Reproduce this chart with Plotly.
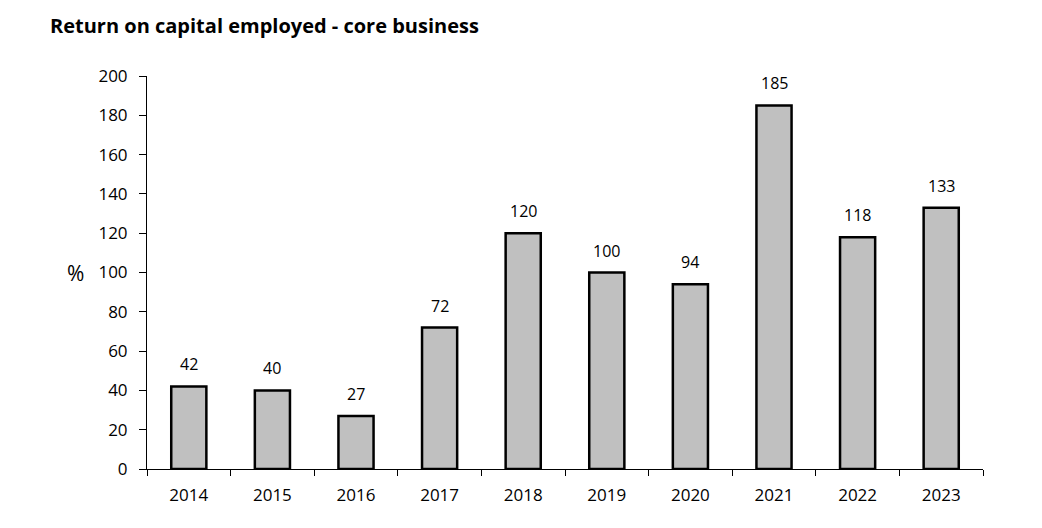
import plotly.graph_objects as go

years = ["2014", "2015", "2016", "2017", "2018", "2019", "2020", "2021", "2022", "2023"]
roce = [42, 40, 27, 72, 120, 100, 94, 185, 118, 133]
y_ticks = [0, 20, 40, 60, 80, 100, 120, 140, 160, 180, 200]

FONT = "Open Sans, Noto Sans, sans-serif"

fig = go.Figure()
fig.add_trace(go.Bar(
    x=years, y=roce,
    width=0.42,
    marker=dict(color="#c0c0c0", line=dict(color="black", width=2.5)),
    hoverinfo="x+y",
))

for i, v in enumerate(roce):
    fig.add_annotation(x=i, y=v, text=str(v), showarrow=False,
                       yanchor="bottom", yshift=9,
                       font=dict(family=FONT, size=16, color="black"))

fig.add_annotation(xref="paper", yref="paper", x=-0.086, xanchor="center",
                   y=0.50, yanchor="middle", text="%",
                   showarrow=False, font=dict(family=FONT, size=21, color="black"))

fig.update_layout(
    width=1042, height=528,
    margin=dict(l=139, r=67, t=68, b=67, autoexpand=False),
    paper_bgcolor="white", plot_bgcolor="white",
    title=dict(text="<b>Return on capital employed - core business</b>",
               x=42/1042, xanchor="left", y=1-18/528, yanchor="middle",
               font=dict(family=FONT, size=20, color="black")),
    showlegend=False,
    font=dict(family=FONT, size=16, color="black"),
)
fig.update_xaxes(type="category", range=[-0.5, 9.5], showline=True, linecolor="black",
                 linewidth=1, ticks="outside", tickson="boundaries", ticklen=6,
                 tickcolor="black", showgrid=False, tickfont=dict(size=17),
                 ticklabelstandoff=11, automargin=False)
fig.update_yaxes(range=[0, 200], tickvals=y_ticks, showline=True, linecolor="black",
                 linewidth=1, ticks="outside", ticklen=7, tickcolor="black",
                 showgrid=False, zeroline=False, tickfont=dict(size=17),
                 ticklabelstandoff=8, automargin=False)

fig.write_html("out.html")
